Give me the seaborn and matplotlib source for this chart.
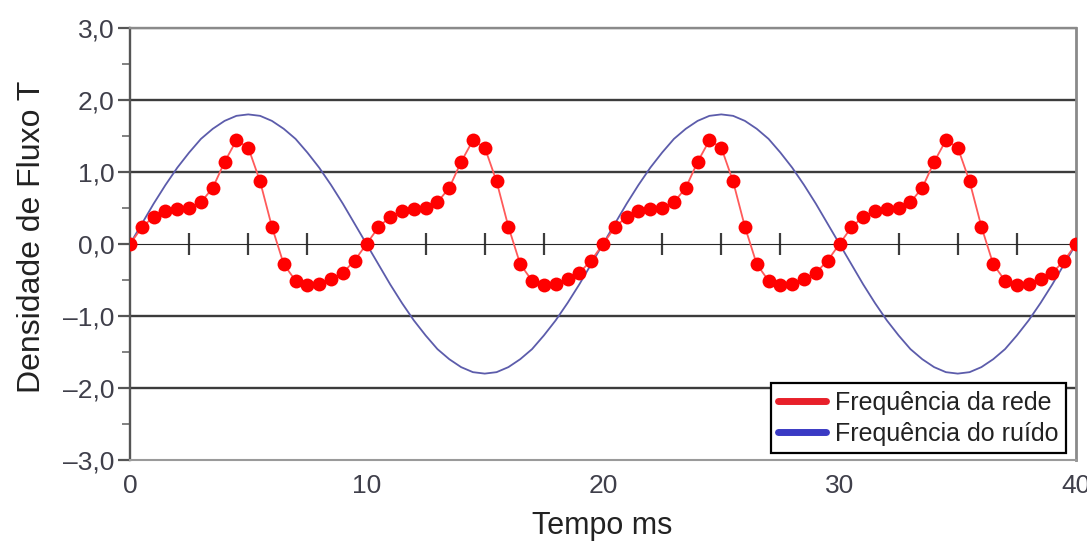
import numpy as np
import pandas as pd
import matplotlib
matplotlib.use("Agg")
import matplotlib.pyplot as plt
from matplotlib.lines import Line2D
from matplotlib.ticker import FuncFormatter, MultipleLocator
import seaborn as sns

# ---- data ----
tempo_ms = np.linspace(0, 40, 81)  # samples every 0.5 ms

freq_rede = [
    0.00, 0.23, 0.38, 0.46, 0.48, 0.50, 0.58, 0.78, 1.14, 1.44, 1.34, 0.87, 0.24, -0.28, -0.51, -0.57, -0.55, -0.49, -0.40, -0.23,
    0.00, 0.23, 0.38, 0.46, 0.48, 0.50, 0.58, 0.78, 1.14, 1.44, 1.34, 0.87, 0.24, -0.28, -0.51, -0.57, -0.55, -0.49, -0.40, -0.23,
    0.00, 0.23, 0.38, 0.46, 0.48, 0.50, 0.58, 0.78, 1.14, 1.44, 1.34, 0.87, 0.24, -0.28, -0.51, -0.57, -0.55, -0.49, -0.40, -0.23,
    0.00, 0.23, 0.38, 0.46, 0.48, 0.50, 0.58, 0.78, 1.14, 1.44, 1.34, 0.87, 0.24, -0.28, -0.51, -0.57, -0.55, -0.49, -0.40, -0.23,
    0.00,
]

freq_ruido = [
    0.00, 0.28, 0.56, 0.82, 1.06, 1.27, 1.46, 1.60, 1.71, 1.78, 1.80, 1.78, 1.71, 1.60, 1.46, 1.27, 1.06, 0.82, 0.56, 0.28,
    0.00, -0.28, -0.56, -0.82, -1.06, -1.27, -1.46, -1.60, -1.71, -1.78, -1.80, -1.78, -1.71, -1.60, -1.46, -1.27, -1.06, -0.82, -0.56, -0.28,
    0.00, 0.28, 0.56, 0.82, 1.06, 1.27, 1.46, 1.60, 1.71, 1.78, 1.80, 1.78, 1.71, 1.60, 1.46, 1.27, 1.06, 0.82, 0.56, 0.28,
    0.00, -0.28, -0.56, -0.82, -1.06, -1.27, -1.46, -1.60, -1.71, -1.78, -1.80, -1.78, -1.71, -1.60, -1.46, -1.27, -1.06, -0.82, -0.56, -0.28,
    0.00,
]

x_ticks = [0, 10, 20, 30, 40]
y_ticks = [-3, -2, -1, 0, 1, 2, 3]
zero_line_ticks = [2.5, 5, 7.5, 12.5, 15, 17.5, 22.5, 25, 27.5, 32.5, 35, 37.5]
legend_labels = ["Frequência da rede", "Frequência do ruído"]
x_label = "Tempo ms"
y_label = "Densidade de Fluxo T"

df = pd.DataFrame({"t": tempo_ms, "rede": freq_rede, "ruido": freq_ruido})

# ---- style ----
sns.set_style("white")
plt.rcParams["font.family"] = ["Liberation Sans", "DejaVu Sans"]

fig = plt.figure(figsize=(10.87, 5.42), dpi=100)
ax = fig.add_axes([130 / 1087, 1 - 460 / 542, 946 / 1087, 432 / 542])

# horizontal grid lines
ax.set_ylim(-3, 3)
ax.set_xlim(0, 40)
for v in y_ticks:
    if v in (-3, 0):
        continue
    col = "#8a8a8a" if v == 3 else "#3c3c3c"
    ax.axhline(v, color=col, lw=1.7, zorder=1)

# noise signal
sns.lineplot(data=df, x="t", y="ruido", ax=ax, color="#5c5cab", lw=1.3, zorder=3)
# network signal: line + markers
sns.lineplot(data=df, x="t", y="rede", ax=ax, color="#ff5a5a", lw=1.3, zorder=4)
sns.scatterplot(data=df, x="t", y="rede", ax=ax, color="#ff0000", s=100, linewidth=0, zorder=5)

# zero line with ticks (secondary axis at y = 0)
sec = ax.secondary_xaxis(0.5)
sec.spines["bottom"].set_color("#3c3c3c")
sec.spines["bottom"].set_linewidth(1.8)
sec.set_xticks(zero_line_ticks)
sec.tick_params(axis="x", direction="inout", length=16, width=1.6, color="#3c3c3c",
                labelbottom=False)
sec.set_xticklabels([])

# axes
ax.set_xticks(x_ticks)
ax.set_yticks(y_ticks)
ax.yaxis.set_minor_locator(MultipleLocator(0.5))
ax.yaxis.set_major_formatter(FuncFormatter(lambda v, p: f"{v:.1f}".replace(".", ",").replace("-", "\u2013")))
ax.tick_params(axis="x", length=0, pad=10, labelsize=19, labelcolor="#3f3f4a")
ax.tick_params(axis="y", which="major", direction="out", length=9, width=1.6, color="#555555",
               pad=2, labelsize=19, labelcolor="#3f3f4a", left=True)
ax.tick_params(axis="y", which="minor", direction="out", length=6, width=1.3, color="#777777", left=True)

for side, col, lw in (("left", "#555555", 1.7), ("right", "#8a8a8a", 2.0),
                      ("bottom", "#9a9a9a", 1.5), ("top", "#8a8a8a", 1.7)):
    ax.spines[side].set_visible(True)
    ax.spines[side].set_color(col)
    ax.spines[side].set_linewidth(lw)

ax.set_xlabel(x_label, fontsize=22, color="#222222")
ax.set_ylabel(y_label, fontsize=23, color="#222222")
ax.xaxis.set_label_coords(0.499, -0.118)
ax.yaxis.set_label_coords(-0.088, 0.516)

handles = [Line2D([0], [0], color="#e8202a", lw=5),
           Line2D([0], [0], color="#3a3ac4", lw=5)]
leg = ax.legend(handles, legend_labels, loc="upper right", bbox_to_anchor=(0.989, 0.178),
                borderaxespad=0, fontsize=18, frameon=True, fancybox=False, framealpha=1,
                edgecolor="black", handlelength=1.9, handletextpad=0.35, labelspacing=0.28,
                borderpad=0.3)
leg.get_frame().set_linewidth(1.6)
for t in leg.get_texts():
    t.set_color("#222222")
leg.set_zorder(10)

fig.savefig("out.png", dpi=100)
